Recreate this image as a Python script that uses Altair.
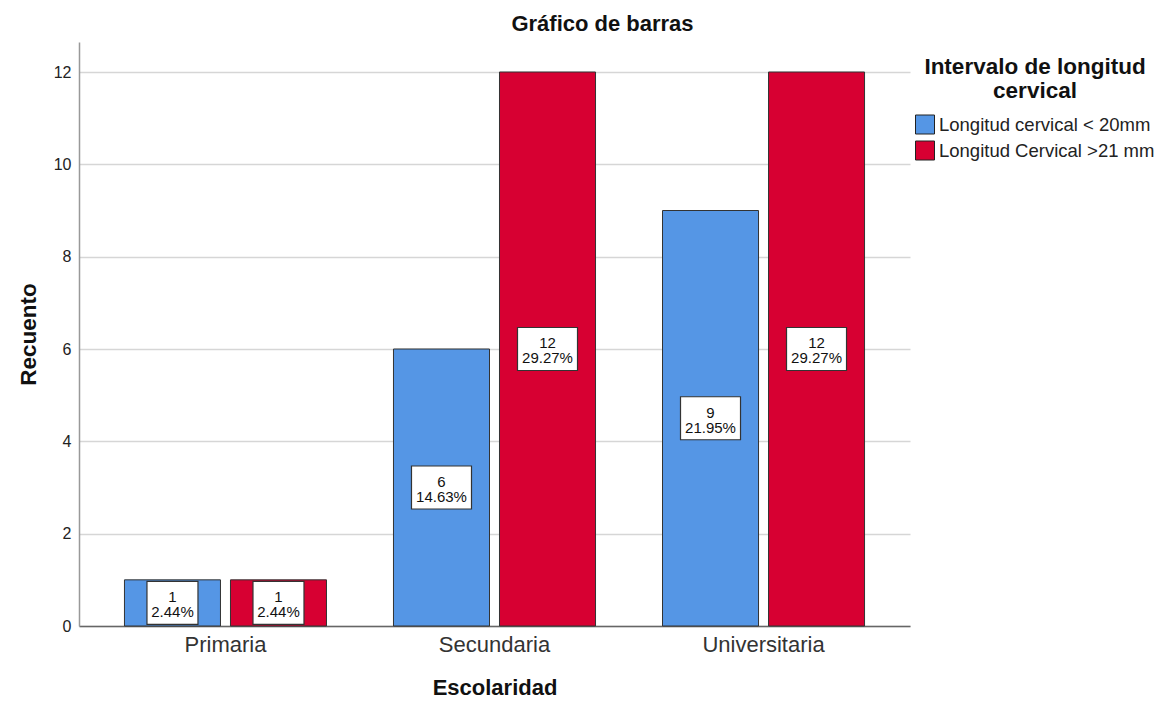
import altair as alt
import pandas as pd

categories = ["Primaria", "Secundaria", "Universitaria"]
series = ["Longitud cervical  < 20mm", "Longitud Cervical >21 mm"]
counts_lt20 = [1, 6, 9]
counts_gt21 = [1, 12, 12]
pct_lt20 = [2.44, 14.63, 21.95]
pct_gt21 = [2.44, 29.27, 29.27]
colors = ["#5596E5", "#D70032"]

rows = []
for i, c in enumerate(categories):
    rows.append({"cat": c, "serie": series[0], "n": counts_lt20[i], "pct": pct_lt20[i]})
    rows.append({"cat": c, "serie": series[1], "n": counts_gt21[i], "pct": pct_gt21[i]})
df = pd.DataFrame(rows)

font = "Liberation Sans"

x_enc = alt.X("cat:N", sort=categories,
              scale=alt.Scale(paddingInner=0.249, paddingOuter=0.169),
              axis=alt.Axis(title="Escolaridad", labelAngle=0, labelFontSize=22,
                            labelColor="#333333", labelPadding=8, ticks=False,
                            domainColor="#666666", domainWidth=1.5,
                            titleFontSize=22, titleFontWeight="bold", titleColor="#111111",
                            titlePadding=22, labelFont=font, titleFont=font))
xo_enc = alt.XOffset("serie:N", sort=series,
                     scale=alt.Scale(paddingInner=0.0943, paddingOuter=0))
y_scale = alt.Scale(domain=[0, 12.65], nice=False, zero=True)

bars = alt.Chart(df).mark_bar(stroke="#333333", strokeWidth=1).encode(
    x=x_enc,
    xOffset=xo_enc,
    y=alt.Y("n:Q", scale=y_scale,
            axis=alt.Axis(title="Recuento", values=[0, 2, 4, 6, 8, 10, 12], ticks=False,
                          labelFontSize=16, labelColor="#222222", labelPadding=8,
                          domainColor="#999999", domainWidth=1.5,
                          gridColor="#d6d6d6", gridWidth=1.5,
                          titleFontSize=22.5, titleFontWeight="bold", titleColor="#111111",
                          titlePadding=13, labelFont=font, titleFont=font)),
    color=alt.Color("serie:N", sort=series,
                    scale=alt.Scale(domain=series, range=colors),
                    legend=alt.Legend(title=["Intervalo de longitud", "cervical"],
                                      orient="none", legendX=836, legendY=14,
                                      titleFontSize=22.5, titleFontWeight="bold",
                                      titleColor="#111111", titleAlign="center",
                                      titleAnchor="middle", titleLineHeight=24,
                                      titlePadding=12, titleFont=font, titleLimit=400,
                                      labelFontSize=18.5, labelColor="#222222", labelFont=font,
                                      labelLimit=400,
                                      symbolType="square", symbolSize=361,
                                      symbolStrokeColor="#222222", symbolStrokeWidth=1,
                                      symbolOpacity=1, labelOffset=4, rowPadding=2)),
)

narrow = "M-0.85,-0.7167 L0.85,-0.7167 L0.85,0.7167 L-0.85,0.7167 Z"
wide = "M-1,-0.7167 L1,-0.7167 L1,0.7167 L-1,0.7167 Z"

base_lab = alt.Chart(df).transform_calculate(
    mid="datum.n / 2",
    label="datum.n + '\\n' + format(datum.pct, '.2f') + '%'",
    w="length(format(datum.pct, '.2f')) > 4 ? 'wide' : 'narrow'",
)

boxes = base_lab.mark_point(filled=True, fill="white", stroke="#333333",
                            strokeWidth=1.2, opacity=1, size=3600).encode(
    x=alt.X("cat:N", sort=categories),
    xOffset=alt.XOffset("serie:N", sort=series),
    y=alt.Y("mid:Q", scale=y_scale),
    shape=alt.Shape("w:N", scale=alt.Scale(domain=["narrow", "wide"], range=[narrow, wide]),
                    legend=None),
)

texts = base_lab.mark_text(fontSize=15, font=font, color="#111111", lineBreak="\n",
                           lineHeight=15, baseline="middle", align="center", dy=-5.75).encode(
    x=alt.X("cat:N", sort=categories),
    xOffset=alt.XOffset("serie:N", sort=series),
    y=alt.Y("mid:Q", scale=y_scale),
    text="label:N",
)

chart = alt.layer(bars, boxes, texts).properties(
    width=831, height=584,
    title=alt.TitleParams("Gráfico de barras", fontSize=22, fontWeight="bold", font=font,
                          color="#111111", anchor="middle", dx=108, offset=6),
    autosize=alt.AutoSizeParams(type="none"),
    padding={"left": 71, "top": 34, "right": 250, "bottom": 73},
    background="white",
).configure_view(strokeWidth=0)

chart.save("out.html", embed_options={"renderer": "svg", "actions": False})
